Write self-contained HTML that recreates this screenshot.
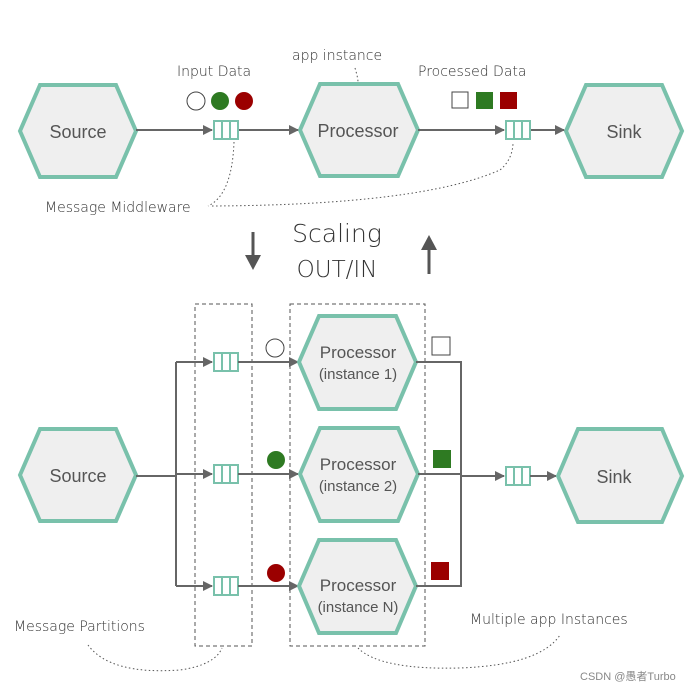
<!DOCTYPE html>
<html><head><meta charset="utf-8"><style>
body{margin:0;background:#fff}
svg{display:block}
.h{fill:#efefef;stroke:#79c1ab;stroke-width:4}
.t{font-family:"Liberation Sans",sans-serif;fill:#555;text-anchor:middle}
.hw{font-family:"DejaVu Sans",sans-serif;fill:#333;font-weight:200}
.l{stroke:#666;stroke-width:2;fill:none}
.q{fill:#fff;stroke:#79c1ab;stroke-width:2}
.d{stroke:#555;stroke-width:1;stroke-dasharray:1.5 2.5;fill:none}
</style></head><body>
<svg width="690" height="689" viewBox="0 0 690 689">
<defs><marker id="a" markerWidth="10" markerHeight="10" refX="9" refY="5" orient="auto" markerUnits="userSpaceOnUse"><path d="M0,0 L10,5 L0,10z" fill="#666"/></marker></defs>
<!-- top -->
<polygon class="h" points="20,131 40,85 116,85 136,131 116,177 40,177"/>
<text class="t" x="78" y="138" font-size="18">Source</text>
<polygon class="h" points="300,130 320,84 398,84 418,130 398,176 320,176"/>
<text class="t" x="358" y="137" font-size="18">Processor</text>
<polygon class="h" points="566,131 586,85 662,85 682,131 662,177 586,177"/>
<text class="t" x="624" y="138" font-size="18">Sink</text>
<line class="l" x1="136" y1="130" x2="212" y2="130" marker-end="url(#a)"/>
<line class="l" x1="238" y1="130" x2="298" y2="130" marker-end="url(#a)"/>
<line class="l" x1="418" y1="130" x2="504" y2="130" marker-end="url(#a)"/>
<line class="l" x1="530" y1="130" x2="564" y2="130" marker-end="url(#a)"/>
<g class="q"><rect x="214" y="121" width="24" height="18"/><line x1="222" y1="121" x2="222" y2="139"/><line x1="230" y1="121" x2="230" y2="139"/></g>
<g class="q"><rect x="506" y="121" width="24" height="18"/><line x1="514" y1="121" x2="514" y2="139"/><line x1="522" y1="121" x2="522" y2="139"/></g>
<circle cx="196" cy="101" r="9" fill="#fff" stroke="#444"/>
<circle cx="220" cy="101" r="9" fill="#2e7a22"/>
<circle cx="244" cy="101" r="9" fill="#9b0000"/>
<rect x="452" y="92" width="16" height="16" fill="#fff" stroke="#444"/>
<rect x="476" y="92" width="17" height="17" fill="#2e7a22"/>
<rect x="500" y="92" width="17" height="17" fill="#9b0000"/>
<text class="hw" x="177" y="76" font-size="14">Input Data</text>
<text class="hw" x="292" y="60" font-size="14">app instance</text>
<text class="hw" x="418" y="76" font-size="14">Processed Data</text>
<text class="hw" x="45" y="212" font-size="14">Message Middleware</text>
<path class="d" d="M234,142 Q232,195 208,206"/>
<path class="d" d="M212,206 Q420,205 500,170 Q512,160 513,144"/>
<path class="d" d="M355,68 Q358,78 358,82"/>
<!-- scaling -->
<line x1="253" y1="232" x2="253" y2="256" stroke="#555" stroke-width="3"/>
<path d="M245,255 L261,255 L253,270z" fill="#555"/>
<line x1="429" y1="250" x2="429" y2="274" stroke="#555" stroke-width="3"/>
<path d="M421,250 L437,250 L429,235z" fill="#555"/>
<text class="hw" x="337" y="242" font-size="25" text-anchor="middle">Scaling</text>
<text class="hw" x="337" y="277" font-size="23" text-anchor="middle">OUT/IN</text>
<!-- bottom -->
<rect x="195" y="304" width="57" height="342" fill="none" stroke="#555" stroke-dasharray="4 3"/>
<rect x="290" y="304" width="135" height="342" fill="none" stroke="#555" stroke-dasharray="4 3"/>
<polygon class="h" points="20,475 40,429 116,429 136,475 116,521 40,521"/>
<text class="t" x="78" y="482" font-size="18">Source</text>
<polyline class="l" points="136,476 176,476"/>
<polyline class="l" points="176,362 176,586"/>
<line class="l" x1="176" y1="362" x2="212" y2="362" marker-end="url(#a)"/>
<line class="l" x1="176" y1="474" x2="212" y2="474" marker-end="url(#a)"/>
<line class="l" x1="176" y1="586" x2="212" y2="586" marker-end="url(#a)"/>
<g class="q"><rect x="214" y="353" width="24" height="18"/><line x1="222" y1="353" x2="222" y2="371"/><line x1="230" y1="353" x2="230" y2="371"/></g>
<g class="q"><rect x="214" y="465" width="24" height="18"/><line x1="222" y1="465" x2="222" y2="483"/><line x1="230" y1="465" x2="230" y2="483"/></g>
<g class="q"><rect x="214" y="577" width="24" height="18"/><line x1="222" y1="577" x2="222" y2="595"/><line x1="230" y1="577" x2="230" y2="595"/></g>
<line class="l" x1="238" y1="362" x2="298" y2="362" marker-end="url(#a)"/>
<line class="l" x1="238" y1="474" x2="298" y2="474" marker-end="url(#a)"/>
<line class="l" x1="238" y1="586" x2="298" y2="586" marker-end="url(#a)"/>
<polygon class="h" points="299,362 319,316 396,316 416,362 396,409 319,409"/>
<polygon class="h" points="300,474 320,428 398,428 418,474 398,521 320,521"/>
<polygon class="h" points="299,586 319,540 396,540 416,586 396,633 319,633"/>
<text class="t" x="358" y="358" font-size="17">Processor</text><text class="t" x="358" y="379" font-size="15">(instance 1)</text>
<text class="t" x="358" y="470" font-size="17">Processor</text><text class="t" x="358" y="491" font-size="15">(instance 2)</text>
<text class="t" x="358" y="591" font-size="17">Processor</text><text class="t" x="358" y="612" font-size="15">(instance N)</text>
<polyline class="l" points="416,362 461,362 461,586 416,586"/>
<line class="l" x1="418" y1="474" x2="461" y2="474"/>
<line class="l" x1="461" y1="476" x2="504" y2="476" marker-end="url(#a)"/>
<g class="q"><rect x="506" y="467" width="24" height="18"/><line x1="514" y1="467" x2="514" y2="485"/><line x1="522" y1="467" x2="522" y2="485"/></g>
<line class="l" x1="530" y1="476" x2="556" y2="476" marker-end="url(#a)"/>
<polygon class="h" points="558,476 578,429 662,429 682,476 662,522 578,522"/>
<text class="t" x="614" y="483" font-size="18">Sink</text>
<circle cx="275" cy="348" r="9" fill="#fff" stroke="#444"/>
<circle cx="276" cy="460" r="9" fill="#2e7a22"/>
<circle cx="276" cy="573" r="9" fill="#9b0000"/>
<rect x="432" y="337" width="18" height="18" fill="#fff" stroke="#444"/>
<rect x="433" y="450" width="18" height="18" fill="#2e7a22"/>
<rect x="431" y="562" width="18" height="18" fill="#9b0000"/>
<text class="hw" x="14" y="631" font-size="14">Message Partitions</text>
<text class="hw" x="470" y="624" font-size="14">Multiple app Instances</text>
<path class="d" d="M88,645 Q110,675 180,670 Q215,665 222,648"/>
<path class="d" d="M358,648 Q380,670 460,668 Q540,665 560,635"/>
<text x="580" y="680" font-family="'Liberation Sans','Noto Sans CJK SC',sans-serif" font-size="11" fill="#888">CSDN @愚者Turbo</text>
</svg>
</body></html>
